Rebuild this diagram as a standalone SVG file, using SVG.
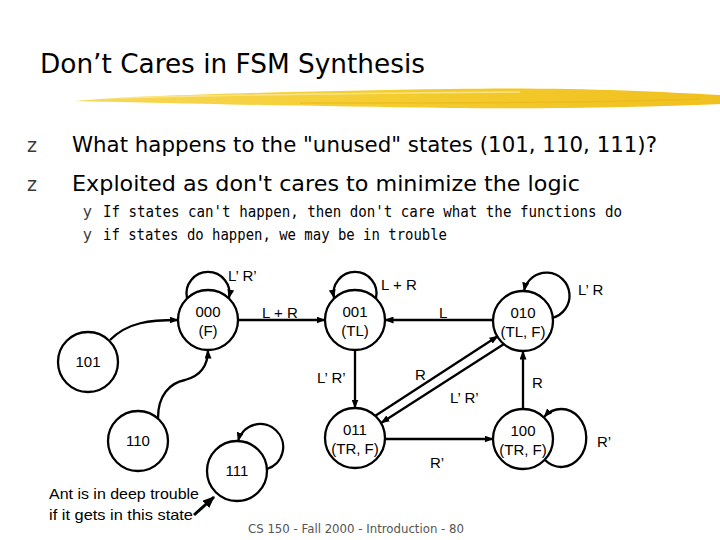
<svg xmlns="http://www.w3.org/2000/svg" width="720" height="540" viewBox="0 0 720 540">
<defs>
<style>
.title{font-family:"DejaVu Sans","Liberation Sans",sans-serif;font-size:27px;fill:#000}
.b1{font-family:"DejaVu Sans","Liberation Sans",sans-serif;font-size:22px;fill:#000}
.b2{font-family:"DejaVu Sans Mono","Liberation Mono",monospace;font-size:16px;fill:#000}
.bul{font-family:"DejaVu Sans","Liberation Sans",sans-serif;fill:#3a3a3a}
.node circle{fill:#fff;stroke:#000;stroke-width:2.3}
.t{font-family:"Liberation Sans","DejaVu Sans",sans-serif;font-size:15px;fill:#000;text-anchor:middle}
.lbl{font-family:"Liberation Sans","DejaVu Sans",sans-serif;font-size:15px;fill:#000}
.e{fill:none;stroke:#000;stroke-width:2.3;marker-end:url(#arr)}
.foot{font-family:"DejaVu Sans","Liberation Sans",sans-serif;font-size:12px;fill:#555}
</style>
<marker id="arr" viewBox="0 0 9 7" refX="8.5" refY="3.5" markerWidth="9" markerHeight="7" markerUnits="userSpaceOnUse" orient="auto">
<path d="M0,0 L9,3.5 L0,7 z" fill="#000"/>
</marker>
<marker id="arrbig" viewBox="0 0 12 10" refX="11" refY="5" markerWidth="12" markerHeight="10" markerUnits="userSpaceOnUse" orient="auto">
<path d="M0,0 L12,5 L0,10 z" fill="#000"/>
</marker>
<linearGradient id="brush" x1="0" y1="0" x2="1" y2="0">
<stop offset="0" stop-color="#f7d95a"/>
<stop offset="0.5" stop-color="#f4cc2e"/>
<stop offset="1" stop-color="#f0c020"/>
</linearGradient>
</defs>
<rect width="720" height="540" fill="#fff"/>
<text class="title" x="40" y="73" textLength="385" lengthAdjust="spacingAndGlyphs">Don’t Cares in FSM Synthesis</text>
<path d="M75,101 C150,95 300,91 450,89 C560,87 650,91 720,95 L720,104 C650,107 560,109 450,108 C300,106 150,103 75,101 Z" fill="url(#brush)"/>
<path d="M120,98 C250,94 400,93 520,92" stroke="#fbe89a" stroke-width="1.5" fill="none" opacity="0.8"/>
<path d="M300,103 C420,103 560,104 700,99" stroke="#eab81a" stroke-width="1.5" fill="none" opacity="0.7"/>
<text class="bul" x="27" y="152" font-size="19">z</text>
<text class="b1" x="72" y="152" textLength="585" lengthAdjust="spacingAndGlyphs">What happens to the "unused" states (101, 110, 111)?</text>
<text class="bul" x="27" y="191" font-size="19">z</text>
<text class="b1" x="72" y="191" textLength="508" lengthAdjust="spacingAndGlyphs">Exploited as don't cares to minimize the logic</text>
<text class="bul" x="83" y="217" font-size="15">y</text>
<text class="b2" x="103" y="217" textLength="519" lengthAdjust="spacingAndGlyphs">If states can't happen, then don't care what the functions do</text>
<text class="bul" x="83" y="240" font-size="15">y</text>
<text class="b2" x="103" y="240" textLength="344" lengthAdjust="spacingAndGlyphs">if states do happen, we may be in trouble</text>

<g id="n000" class="node"><circle cx="208" cy="320" r="30"/><text class="t" x="208" y="317">000</text><text class="t" x="208" y="336">(F)</text></g>
<g id="n001" class="node"><circle cx="355" cy="320" r="30"/><text class="t" x="355" y="317">001</text><text class="t" x="355" y="336">(TL)</text></g>
<g id="n010" class="node"><circle cx="523" cy="321" r="30"/><text class="t" x="523" y="318">010</text><text class="t" x="523" y="337">(TL, F)</text></g>
<g id="n101" class="node"><circle cx="88" cy="362" r="30"/><text class="t" x="88" y="367">101</text></g>
<g id="n011" class="node"><circle cx="355" cy="438" r="30"/><text class="t" x="355" y="435">011</text><text class="t" x="355" y="454">(TR, F)</text></g>
<g id="n100" class="node"><circle cx="523" cy="439" r="30"/><text class="t" x="523" y="436">100</text><text class="t" x="523" y="455">(TR, F)</text></g>
<g id="n110" class="node"><circle cx="138" cy="441" r="30"/><text class="t" x="138" y="446">110</text></g>
<g id="n111" class="node"><circle cx="237" cy="471" r="30"/><text class="t" x="237" y="476">111</text></g>

<g id="connectors">
<path class="e" d="M187,298 A21.5,21.5 0 1 1 229,298"/>
<path class="e" d="M376,298 A21.5,21.5 0 1 0 334,298"/>
<path class="e" d="M552,318 A23,23 0 1 0 524,291"/>
<path class="e" d="M545,460 A25,29 0 1 0 544,417"/>
<path class="e" d="M267,469 A23,23 0 1 0 238,441"/>
<path class="e" d="M238,320 L325,320"/>
<path class="e" d="M493,320 L385,320"/>
<path class="e" d="M355,350 L355,408"/>
<path class="e" d="M375,416 L498,336"/>
<path class="e" d="M504,344 L381,423"/>
<path class="e" d="M385,439 L493,439"/>
<path class="e" d="M523,409 L523,351"/>
<path class="e" d="M110,340 C128,322 150,320 178,320"/>
<path class="e" d="M158,418 C158,395 170,383 185,380 C200,376 208,367 208,350"/>
<path d="M194,515 L214,497" fill="none" stroke="#000" stroke-width="3" marker-end="url(#arrbig)"/>
<text class="lbl" x="228" y="281">L’ R’</text>
<text class="lbl" x="262" y="318">L + R</text>
<text class="lbl" x="381" y="290">L + R</text>
<text class="lbl" x="439" y="318">L</text>
<text class="lbl" x="578" y="295">L’ R</text>
<text class="lbl" x="415" y="380">R</text>
<text class="lbl" x="450" y="403">L’ R’</text>
<text class="lbl" x="317" y="383">L’ R’</text>
<text class="lbl" x="532" y="388">R</text>
<text class="lbl" x="430" y="468">R’</text>
<text class="lbl" x="597" y="447">R’</text>
</g>
<text class="lbl" x="49" y="499" textLength="150" lengthAdjust="spacingAndGlyphs">Ant is in deep trouble</text>
<text class="lbl" x="49" y="520" textLength="144" lengthAdjust="spacingAndGlyphs">if it gets in this state</text>
<text class="foot" x="248" y="533" textLength="216" lengthAdjust="spacingAndGlyphs">CS 150 - Fall 2000 - Introduction - 80</text>
</svg>
